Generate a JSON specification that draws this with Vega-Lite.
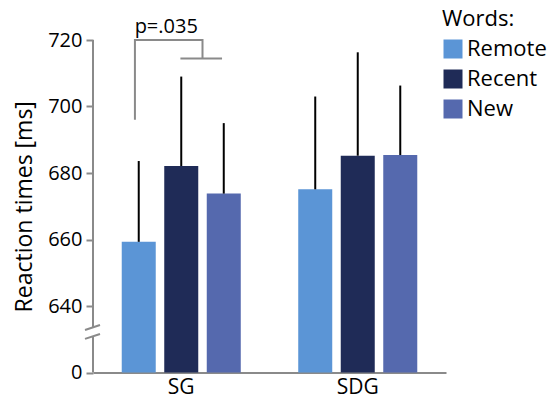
{
  "$schema": "https://vega.github.io/schema/vega-lite/v6.json",
  "width": 353,
  "height": 332.5,
  "autosize": "none",
  "padding": {"left": 93, "top": 40, "right": 106, "bottom": 30.5},
  "config": {
    "font": "Open Sans",
    "view": {"stroke": null},
    "axis": {"grid": false}
  },
  "layer": [
    {
      "data": {
        "values": [
          {"group": "SG", "word": "Remote", "rt": 659.3, "upper": 683.6},
          {"group": "SG", "word": "Recent", "rt": 682.1, "upper": 709.0},
          {"group": "SG", "word": "New", "rt": 673.8, "upper": 695.0},
          {"group": "SDG", "word": "Remote", "rt": 675.1, "upper": 703.0},
          {"group": "SDG", "word": "Recent", "rt": 685.2, "upper": 716.3},
          {"group": "SDG", "word": "New", "rt": 685.4, "upper": 706.3}
        ]
      },
      "layer": [
        {
          "mark": {"type": "bar"},
          "encoding": {
            "x": {
              "field": "group", "type": "nominal",
              "scale": {"domain": ["SG", "SDG"], "paddingInner": 0, "paddingOuter": 0},
              "axis": {
                "title": null, "labelAngle": 0, "labelFontSize": 21, "labelColor": "black",
                "ticks": false, "domainColor": "#8a8a8a", "domainWidth": 2, "labelPadding": 4
              }
            },
            "xOffset": {
              "field": "word", "type": "nominal",
              "scale": {"domain": ["Remote", "Recent", "New"], "paddingInner": 0.2, "paddingOuter": 0.676}
            },
            "y": {
              "field": "rt", "type": "quantitative",
              "scale": {"domain": [620, 720], "nice": false, "zero": false},
              "axis": {
                "title": "Reaction times [ms]", "titleFontSize": 23, "titleFontWeight": "normal",
                "titleColor": "black", "titlePadding": 11,
                "values": [620, 640, 660, 680, 700, 720],
                "labelExpr": "datum.value == 620 ? '0' : datum.label",
                "labelFontSize": 20, "labelColor": "black", "labelPadding": 4,
                "domain": false, "tickColor": "#8a8a8a", "tickWidth": 2, "tickSize": 7
              }
            },
            "y2": {"datum": 620},
            "color": {
              "field": "word", "type": "nominal",
              "scale": {"domain": ["Remote", "Recent", "New"], "range": ["#5b95d6", "#1f2b57", "#5569ae"]},
              "legend": {
                "title": "Words:", "orient": "none", "legendX": 349, "legendY": -31,
                "titleFontSize": 22, "titleFontWeight": "normal", "titleColor": "black", "titlePadding": 7,
                "labelFontSize": 22, "labelColor": "black", "labelOffset": 3,
                "symbolType": "square", "symbolSize": 361, "symbolStrokeWidth": 0, "symbolOpacity": 1,
                "rowPadding": 8, "padding": 0
              }
            }
          }
        },
        {
          "mark": {"type": "rule", "color": "black", "strokeWidth": 2},
          "encoding": {
            "x": {"field": "group", "type": "nominal", "scale": {"domain": ["SG", "SDG"], "paddingInner": 0, "paddingOuter": 0}},
            "xOffset": {
              "field": "word", "type": "nominal",
              "scale": {"domain": ["Remote", "Recent", "New"], "paddingInner": 0.2, "paddingOuter": 0.676}
            },
            "y": {"field": "upper", "type": "quantitative", "scale": {"domain": [620, 720], "nice": false, "zero": false}},
            "y2": {"field": "rt"}
          }
        }
      ]
    },
    {
      "data": {
        "values": [
          {"seg": "a", "k": 1, "pos": -1.09, "v": 696},
          {"seg": "a", "k": 2, "pos": -1.09, "v": 720},
          {"seg": "a", "k": 3, "pos": 0.5, "v": 720},
          {"seg": "a", "k": 4, "pos": 0.5, "v": 714.4},
          {"seg": "b", "k": 1, "pos": -0.02, "v": 714.4},
          {"seg": "b", "k": 2, "pos": 0.96, "v": 714.4},
          {"seg": "c", "k": 1, "pos": -2.2645, "v": 632.8},
          {"seg": "c", "k": 2, "pos": -1.9115, "v": 634.3},
          {"seg": "d", "k": 1, "pos": -2.2645, "v": 630.1},
          {"seg": "d", "k": 2, "pos": -1.9115, "v": 631.6},
          {"seg": "e", "k": 1, "pos": -2.0765, "v": 720},
          {"seg": "e", "k": 2, "pos": -2.0765, "v": 633.7},
          {"seg": "f", "k": 1, "pos": -2.0765, "v": 630.7},
          {"seg": "f", "k": 2, "pos": -2.0765, "v": 620}
        ]
      },
      "mark": {"type": "line", "color": "#8a8a8a", "strokeWidth": 2, "strokeCap": "butt"},
      "encoding": {
        "x": {"datum": "SG", "type": "nominal", "scale": {"domain": ["SG", "SDG"], "paddingInner": 0, "paddingOuter": 0}},
        "xOffset": {"field": "pos", "type": "quantitative", "scale": {"domain": [-2.0765, 2.0765], "range": [0, 176.5], "nice": false, "zero": false}},
        "y": {"field": "v", "type": "quantitative", "scale": {"domain": [620, 720], "nice": false, "zero": false}},
        "detail": {"field": "seg", "type": "nominal"},
        "order": {"field": "k", "type": "quantitative"}
      }
    },
    {
      "data": {"values": [{"label": "p=.035", "pos": -0.353, "v": 722.1}]},
      "mark": {"type": "text", "fontSize": 20, "baseline": "alphabetic", "align": "center", "color": "black"},
      "encoding": {
        "x": {"datum": "SG", "type": "nominal", "scale": {"domain": ["SG", "SDG"], "paddingInner": 0, "paddingOuter": 0}},
        "xOffset": {"field": "pos", "type": "quantitative", "scale": {"domain": [-2.0765, 2.0765], "range": [0, 176.5], "nice": false, "zero": false}},
        "y": {"field": "v", "type": "quantitative", "scale": {"domain": [620, 720], "nice": false, "zero": false}},
        "text": {"field": "label"}
      }
    }
  ],
  "resolve": {"scale": {"xOffset": "independent"}}
}
